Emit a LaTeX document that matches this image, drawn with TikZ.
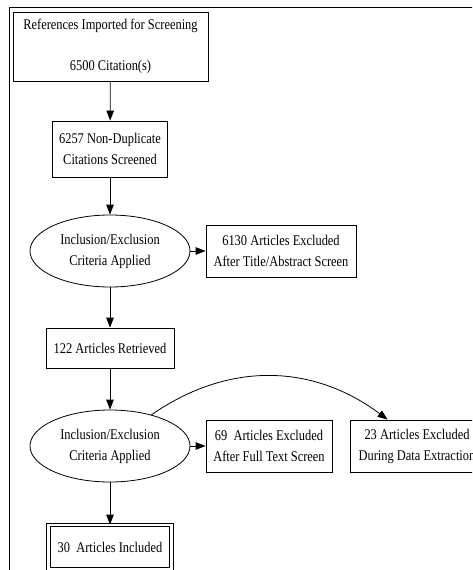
\documentclass[tikz,border=0pt]{standalone}
\usepackage{fontspec}
\setmainfont{Liberation Serif}[FakeStretch=0.84]
\usetikzlibrary{shapes.geometric,arrows.meta}
\begin{document}
\begin{tikzpicture}[x=1pt,y=-1pt,
  every node/.style={font=\fontsize{14.8}{21}\selectfont, align=center, line width=0.8pt, inner sep=0pt},
  box/.style={draw, rectangle},
  oval/.style={draw, ellipse},
  arr/.style={draw, line width=0.8pt, -{Triangle[length=10pt,width=7.5pt]}},
]
\useasboundingbox (0,0) rectangle (472,570);
\clip (0,0) rectangle (472,570);
\draw[line width=1.6pt] (9.5,7.5) rectangle (700,800);
\node[box, minimum width=195pt, minimum height=69pt] (n1) at (110.5,46.5) {References Imported for Screening\\[20pt]6500 Citation(s)};
\node[box, minimum width=115pt, minimum height=56pt] (n2) at (110,149) {6257 Non-Duplicate\\Citations Screened};
\node[oval, minimum width=160pt, minimum height=72pt] (e1) at (110,251) {Inclusion/Exclusion\\Criteria Applied};
\node[box, minimum width=150pt, minimum height=52pt] (x1) at (281,251) {6130 Articles Excluded\\After Title/Abstract Screen};
\node[box, minimum width=128pt, minimum height=40pt] (n3) at (110,348) {122 Articles Retrieved};
\node[oval, minimum width=160pt, minimum height=72pt] (e2) at (110,446) {Inclusion/Exclusion\\Criteria Applied};
\node[box, minimum width=126pt, minimum height=52pt] (x2) at (269,446) {69\ \ Articles Excluded\\After Full Text Screen};
\node[box, minimum width=134pt, minimum height=52pt] (x3) at (417,446) {23 Articles Excluded\\During Data Extraction};
\node[draw, double, double distance=2.5pt, minimum width=123pt, minimum height=44pt] (n4) at (110,547) {30\ \ Articles Included};
\draw[arr] (n1) -- (n2);
\draw[arr] (n2) -- (e1);
\draw[arr] (e1) -- (x1);
\draw[arr] (e1) -- (n3);
\draw[arr] (n3) -- (e2);
\draw[arr] (e2) -- (x2);
\draw[arr] (e2.37) .. controls (232,359) and (316,366) .. ([xshift=38pt]x3.north west);
\draw[arr] (e2) -- (n4);
\end{tikzpicture}
\end{document}
